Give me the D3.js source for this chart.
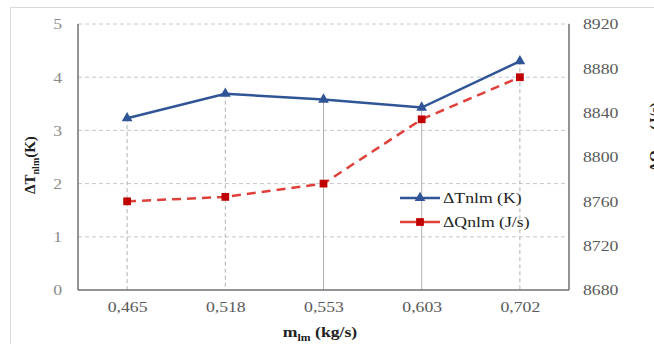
<!DOCTYPE html>
<meta charset="utf-8">
<script src="https://d3js.org/d3.v7.min.js"></script>
<body style="margin:0;background:#fff">
<div id="chart"></div>
<script>

// data
var massFlow = ["0,465", "0,518", "0,553", "0,603", "0,702"];
var dT = [3.23, 3.69, 3.58, 3.43, 4.30];
var dQ = [8760, 8764, 8776, 8834, 8872];
var leftTicks = [0, 1, 2, 3, 4, 5];
var rightTicks = [8680, 8720, 8760, 8800, 8840, 8880, 8920];
var seriesNames = ["ΔTnlm (K)", "ΔQnlm (J/s)"];

var W = 654, H = 344;
var margin = {top: 24, right: 85, bottom: 54, left: 78},
    width = W - margin.left - margin.right,
    height = H - margin.top - margin.bottom;

var blue = "#2f5597", red = "#c00000", redLine = "#e0403a";
var serif = "Liberation Serif";
var sx = 1.18; // the source picture is stretched sideways

var svg = d3.select("#chart").append("svg")
  .attr("width", W).attr("height", H)
  .attr("font-family", serif);

// outer chart frame
svg.append("rect")
  .attr("x", 10.5).attr("y", 7.5)
  .attr("width", W).attr("height", H)
  .attr("fill", "none").attr("stroke", "#d9d9d9");

var g = svg.append("g")
  .attr("transform", "translate(" + margin.left + "," + margin.top + ")");

var x = d3.scalePoint().domain(massFlow).range([0, width]).padding(0.5);
var y = d3.scaleLinear().domain([0, 5]).range([height, 0]);
var y2 = d3.scaleLinear().domain([8680, 8920]).range([height, 0]);

// horizontal gridlines
g.selectAll(".grid")
  .data(leftTicks.slice(1))
  .enter().append("line")
    .attr("x1", 0).attr("x2", width)
    .attr("y1", function(d) { return y(d); })
    .attr("y2", function(d) { return y(d); })
    .attr("stroke", "#c8c8c8")
    .attr("stroke-dasharray", "4,3");

// drop lines
var solidDrop = ["0,553", "0,603"];
g.selectAll(".drop")
  .data(massFlow)
  .enter().append("line")
    .attr("x1", function(d) { return x(d); })
    .attr("x2", function(d) { return x(d); })
    .attr("y1", function(d, i) { return y(dT[i]); })
    .attr("y2", height)
    .attr("stroke", "#b0b0b0")
    .attr("stroke-dasharray", function(d) { return solidDrop.indexOf(d) >= 0 ? null : "4,3"; });

// axes
var axL = g.append("g")
  .call(d3.axisLeft(y).tickValues(leftTicks).tickFormat(d3.format("d")).tickSize(0).tickPadding(16));
var axR = g.append("g").attr("transform", "translate(" + width + ",0)")
  .call(d3.axisRight(y2).tickValues(rightTicks).tickFormat(d3.format("d")).tickSize(0).tickPadding(14));
var axB = g.append("g").attr("transform", "translate(0," + height + ")")
  .call(d3.axisBottom(x).tickSize(0).tickPadding(11));

[axL, axR, axB].forEach(function(a) {
  a.attr("font-family", serif).attr("font-size", 15);
  a.select(".domain").attr("stroke", "#707070").attr("stroke-width", 1.5);
  a.selectAll("text").attr("fill", "#595959")
    .attr("font-family", serif).attr("font-size", 15)
    .attr("transform", "scale(" + sx + ",1)");
});
axL.selectAll("text").attr("fill", "#8a8a8a").attr("x", -16 / sx);
axR.selectAll("text").attr("x", 14 / sx);
axL.select(".domain").attr("d", "M0,0V" + height);
axR.select(".domain").attr("d", "M0,0V" + height);
axB.select(".domain").attr("d", "M0,0H" + width);

// lines
var lineT = d3.line()
  .x(function(d, i) { return x(massFlow[i]); })
  .y(function(d) { return y(d); });
var lineQ = d3.line()
  .x(function(d, i) { return x(massFlow[i]); })
  .y(function(d) { return y2(d); });

g.append("path").datum(dQ)
  .attr("d", lineQ).attr("fill", "none")
  .attr("stroke", redLine).attr("stroke-width", 2.5)
  .attr("stroke-dasharray", "9,6");

g.append("path").datum(dT)
  .attr("d", lineT).attr("fill", "none")
  .attr("stroke", blue).attr("stroke-width", 2.5);

var tri = d3.symbol().type(d3.symbolTriangle).size(50);
var sq = d3.symbol().type(d3.symbolSquare).size(60);

g.selectAll(".mT").data(dT).enter().append("path")
  .attr("d", tri)
  .attr("transform", function(d, i) { return "translate(" + x(massFlow[i]) + "," + y(d) + ")"; })
  .attr("fill", blue);

g.selectAll(".mQ").data(dQ).enter().append("path")
  .attr("d", sq)
  .attr("transform", function(d, i) { return "translate(" + x(massFlow[i]) + "," + y2(d) + ")"; })
  .attr("fill", red);

// legend
var leg = g.append("g").attr("transform", "translate(322,174)");
[0, 1].forEach(function(i) {
  var row = leg.append("g").attr("transform", "translate(0," + (i * 24) + ")");
  row.append("line").attr("x1", 0).attr("x2", 40)
    .attr("stroke", i ? redLine : blue).attr("stroke-width", 2.5);
  row.append("path").attr("d", i ? sq : tri)
    .attr("transform", "translate(20,0)").attr("fill", i ? red : blue);
  row.append("text").attr("transform", "translate(43,5) scale(" + sx + ",1)")
    .attr("font-family", serif)
    .attr("font-size", 15).attr("fill", "#222")
    .text(seriesNames[i]);
});

// axis titles
function title(tx, ty, rot, main, sub, rest) {
  var t = svg.append("text")
    .attr("transform", "translate(" + tx + "," + ty + ")" + (rot ? " rotate(-90)" : " scale(" + sx + ",1)"))
    .attr("text-anchor", "middle").attr("font-family", serif)
    .attr("font-size", 15).attr("font-weight", "bold").attr("fill", "#222");
  t.append("tspan").text(main);
  t.append("tspan").attr("dy", 4).attr("font-size", 10).text(sub);
  t.append("tspan").attr("dy", -4).text(rest);
}
title(35, margin.top + height / 2 + 8, true, "ΔT", "nlm", "(K)");
title(660, margin.top + height / 2 - 20, true, "ΔQ", "nlm", " (J/s)");
title(320, 337, false, "m", "lm", " (kg/s)");

</script>
</body>
